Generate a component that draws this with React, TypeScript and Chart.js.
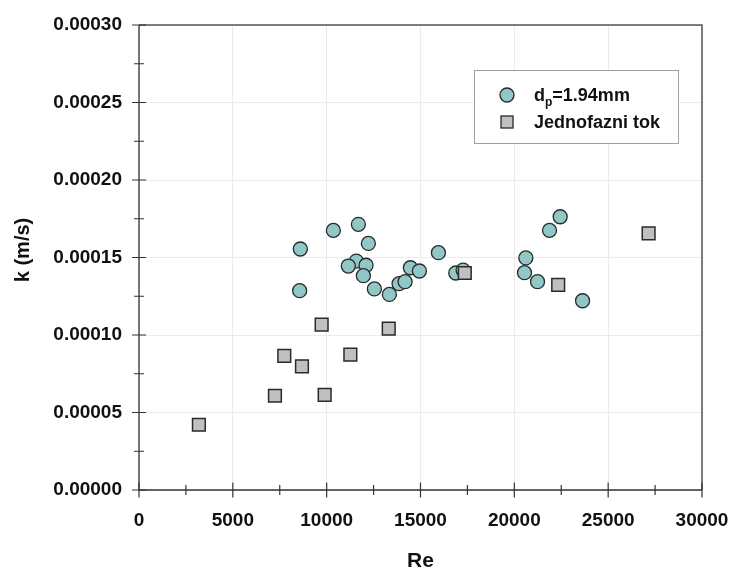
import React, { useEffect, useRef } from "react";
import { Chart, registerables } from "chart.js";

Chart.register(...registerables);

// Re values and k (m/s) for dp = 1.94 mm
const circleRe = [8597, 8560, 10357, 11690, 12222, 11582, 11155, 12098, 11955, 12542, 13342, 13858, 14178, 14462, 14942, 15955, 16880, 17270, 22443, 21875, 20613, 20542, 21235, 23635];
const circleK = [1.555e-4, 1.286e-4, 1.675e-4, 1.714e-4, 1.591e-4, 1.477e-4, 1.445e-4, 1.45e-4, 1.383e-4, 1.297e-4, 1.262e-4, 1.331e-4, 1.344e-4, 1.434e-4, 1.413e-4, 1.531e-4, 1.4e-4, 1.419e-4, 1.763e-4, 1.675e-4, 1.497e-4, 1.402e-4, 1.344e-4, 1.221e-4];

// Jednofazni tok
const squareRe = [3191, 7244, 7742, 8684, 9733, 9893, 11262, 13307, 17360, 22337, 27155];
const squareK = [4.21e-5, 6.08e-5, 8.66e-5, 7.98e-5, 1.067e-4, 6.13e-5, 8.73e-5, 1.041e-4, 1.4e-4, 1.323e-4, 1.656e-4];

const xMin = 0, xMax = 30000, xStep = 5000, xMinor = 2500;
const yMin = 0, yMax = 0.0003, yStep = 0.00005, yMinor = 0.000025;

const legendCircle = "d";
const legendCircleSub = "p";
const legendCircleRest = "=1.94mm";
const legendSquare = "Jednofazni tok";
const xTitle = "Re";
const yTitle = "k (m/s)";

const FONT = "Arial, 'Liberation Sans', sans-serif";
const CIRCLE_FILL = "#8fc8c6";
const SQUARE_FILL = "#c0c0c0";
const EDGE = "#2a2a2a";

const decorPlugin = {
  id: "decor",
  afterDatasetsDraw(chart: any) {
    const { ctx, chartArea: a, scales } = chart;
    const xs = scales.x, ys = scales.y;
    ctx.save();
    // frame
    ctx.strokeStyle = "#555";
    ctx.lineWidth = 1.5;
    ctx.beginPath();
    ctx.moveTo(a.left, a.top);
    ctx.lineTo(a.right, a.top);
    ctx.lineTo(a.right, a.bottom);
    ctx.stroke();
    // axes
    ctx.strokeStyle = "#333";
    ctx.lineWidth = 1.3;
    ctx.beginPath();
    ctx.moveTo(a.left, a.top);
    ctx.lineTo(a.left, a.bottom);
    ctx.lineTo(a.right, a.bottom);
    ctx.stroke();
    // ticks
    ctx.lineWidth = 1.2;
    ctx.beginPath();
    for (let v = xMin; v <= xMax + 1e-9; v += xMinor) {
      const major = Math.abs(v / xStep - Math.round(v / xStep)) < 1e-6;
      const px = xs.getPixelForValue(v);
      const l = major ? 7.5 : 5;
      ctx.moveTo(px, a.bottom - l);
      ctx.lineTo(px, a.bottom + l);
    }
    for (let i = 0; i <= Math.round((yMax - yMin) / yMinor); i++) {
      const v = yMin + i * yMinor;
      const major = i % 2 === 0;
      const py = ys.getPixelForValue(v);
      const l = major ? 7 : 5;
      ctx.moveTo(a.left - l, py);
      ctx.lineTo(a.left + l, py);
    }
    ctx.stroke();

    // axis titles
    ctx.fillStyle = "#111";
    ctx.textAlign = "center";
    ctx.textBaseline = "middle";
    ctx.font = `bold 21px ${FONT}`;
    ctx.fillText(xTitle, (a.left + a.right) / 2, 561);
    ctx.save();
    ctx.translate(23, 250);
    ctx.rotate(-Math.PI / 2);
    ctx.font = `bold 20px ${FONT}`;
    ctx.fillText(yTitle, 0, 0);
    ctx.restore();

    // legend
    const bx = 474, by = 70, bw = 204, bh = 73;
    ctx.fillStyle = "#fff";
    ctx.fillRect(bx, by, bw, bh);
    ctx.strokeStyle = "#a0a0a0";
    ctx.lineWidth = 1;
    ctx.strokeRect(bx + 0.5, by + 0.5, bw, bh);

    ctx.beginPath();
    ctx.arc(507, 95, 7, 0, Math.PI * 2);
    ctx.fillStyle = CIRCLE_FILL;
    ctx.fill();
    ctx.strokeStyle = EDGE;
    ctx.lineWidth = 1.3;
    ctx.stroke();
    ctx.fillStyle = SQUARE_FILL;
    ctx.fillRect(501, 116, 12, 12);
    ctx.strokeRect(501, 116, 12, 12);

    ctx.fillStyle = "#111";
    ctx.textBaseline = "alphabetic";
    ctx.textAlign = "left";
    ctx.font = `bold 18px ${FONT}`;
    let tx = 534;
    ctx.fillText(legendCircle, tx, 101);
    tx += ctx.measureText(legendCircle).width;
    ctx.font = `bold 12px ${FONT}`;
    ctx.fillText(legendCircleSub, tx, 106);
    tx += ctx.measureText(legendCircleSub).width;
    ctx.font = `bold 18px ${FONT}`;
    ctx.fillText(legendCircleRest, tx, 101);
    ctx.fillText(legendSquare, 534, 128);
    ctx.restore();
  },
};

export default function App() {
  const ref = useRef<HTMLCanvasElement>(null);
  useEffect(() => {
    if (!ref.current) return;
    const chart = new Chart(ref.current, {
      type: "scatter",
      data: {
        datasets: [
          {
            label: "dp=1.94mm",
            data: circleRe.map((x, i) => ({ x, y: circleK[i] })),
            pointStyle: "circle",
            pointRadius: 7,
            pointHoverRadius: 7,
            backgroundColor: CIRCLE_FILL,
            borderColor: EDGE,
            borderWidth: 1.3,
            order: 1,
          },
          {
            label: "Jednofazni tok",
            data: squareRe.map((x, i) => ({ x, y: squareK[i] })),
            pointStyle: "rect",
            pointRadius: 9,
            pointHoverRadius: 9,
            backgroundColor: SQUARE_FILL,
            borderColor: EDGE,
            borderWidth: 1.5,
            order: 0,
          },
        ],
      },
      options: {
        animation: false,
        responsive: false,
        maintainAspectRatio: false,
        layout: { padding: { top: 25, right: 29, left: 0, bottom: 0 } },
        plugins: { legend: { display: false }, tooltip: { enabled: false } },
        scales: {
          x: {
            type: "linear",
            min: xMin,
            max: xMax,
            afterFit: (s: any) => { s.height = 80; s.paddingLeft = 0; s.paddingRight = 0; },
            grid: { color: "#ebebeb", drawTicks: false, lineWidth: 1 },
            border: { display: false },
            ticks: {
              stepSize: xStep,
              padding: 19,
              color: "#111",
              font: { family: FONT, size: 19, weight: "bold" },
              maxRotation: 0,
              callback: (v: any) => String(v),
            },
            title: { display: false },
          },
          y: {
            type: "linear",
            min: yMin,
            max: yMax,
            afterFit: (s: any) => { s.width = 139; s.paddingTop = 0; s.paddingBottom = 0; },
            grid: { color: "#ebebeb", drawTicks: false, lineWidth: 1 },
            border: { display: false },
            ticks: {
              stepSize: yStep,
              padding: 17,
              color: "#111",
              font: { family: FONT, size: 19, weight: "bold" },
              callback: (v: any) => Number(v).toFixed(5),
            },
            title: { display: false },
          },
        },
      },
      plugins: [decorPlugin],
    });
    return () => chart.destroy();
  }, []);
  return (
    <div style={{ position: "absolute", left: 0, top: 0, width: 731, height: 570 }}>
      <canvas ref={ref} width={731} height={570} style={{ width: 731, height: 570, display: "block" }} />
    </div>
  );
}
